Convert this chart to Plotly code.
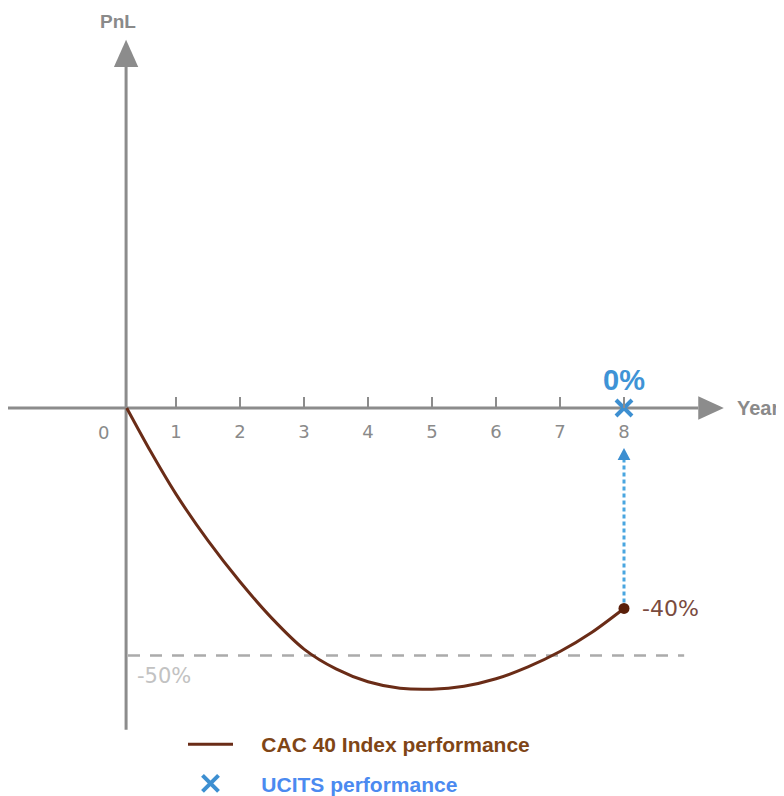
import plotly.graph_objects as go

# ---- data ----
YEARS = [0.23, 0.6, 1, 1.5, 2, 2.5, 3, 3.5, 4, 4.5, 5, 5.5, 6, 6.5, 7, 7.5, 8]
CAC_PNL = [0, -8.7, -17.4, -26.8, -35.1, -42.5, -48.7, -52.7, -55.3, -56.6, -56.8,
           -56.2, -54.7, -52.3, -49.2, -45.3, -40.5]
UCITS_YEAR = [8]
UCITS_PNL = [0]
TICK_YEARS = [1, 2, 3, 4, 5, 6, 7, 8]
TICK_LABELS = ["1", "2", "3", "4", "5", "6", "7", "8"]
BARRIER = -50
SERIES_NAMES = ["CAC 40 Index performance", "UCITS performance"]

BROWN = "#6a2c17"
BLUE = "#3d8fd1"
GRAY = "#8c8c8c"

# page offset of the plot div (browser default body margin)
OFF = 8
W, H = 784, 796
PX0, PX_PER_YEAR = 112, 64        # screen x of year 0, pixels per year
PY0, PY_PER_PCT = 408, 4.95       # screen y of 0 %, pixels per %

x_lo = (OFF - PX0) / PX_PER_YEAR
x_hi = (OFF + W - PX0) / PX_PER_YEAR
y_hi = (PY0 - OFF) / PY_PER_PCT
y_lo = (PY0 - OFF - H) / PY_PER_PCT

fig = go.Figure()

fig.add_trace(go.Scatter(
    x=YEARS, y=CAC_PNL, mode="lines",
    line=dict(color=BROWN, width=3, shape="spline", smoothing=0.8),
    name="<b><span style='color:#7f4516'>&nbsp;&nbsp;&nbsp;&nbsp;" + SERIES_NAMES[0] + "</span></b>",
    legendgroup="a", hoverinfo="skip",
))
fig.add_trace(go.Scatter(
    x=[YEARS[-1]], y=[CAC_PNL[-1]], mode="markers",
    marker=dict(color="#5a1f0a", size=11), showlegend=False, hoverinfo="skip",
))
fig.add_trace(go.Scatter(
    x=UCITS_YEAR, y=UCITS_PNL, mode="markers",
    marker=dict(symbol="x-thin", size=16, line=dict(color=BLUE, width=4), color=BLUE),
    name="<b><span style='color:#4b8af0'>&nbsp;&nbsp;&nbsp;&nbsp;" + SERIES_NAMES[1] + "</span></b>",
    legendgroup="b", hoverinfo="skip",
))

x_end = YEARS[-1]
shapes = [
    # horizontal axis line + arrow
    dict(type="line", x0=-1.64, x1=9.16, y0=0, y1=0, line=dict(color=GRAY, width=3), layer="below"),
    dict(type="path", path="M 9.16,2.35 L 9.56,0 L 9.16,-2.35 Z", fillcolor=GRAY, line=dict(width=0), layer="below"),
    # vertical axis line + arrow
    dict(type="line", x0=0.22, x1=0.22, y0=-65, y1=68.9, line=dict(color=GRAY, width=3), layer="below"),
    dict(type="path", path="M 0.03,68.9 L 0.22,74.4 L 0.41,68.9 Z", fillcolor=GRAY, line=dict(width=0), layer="below"),
    # -50% barrier
    dict(type="line", x0=0.25, x1=8.94, y0=BARRIER, y1=BARRIER,
         line=dict(color="#ababab", width=2.5, dash="12px,10px"), layer="below"),
    # dotted blue arrow from -40% to 0%
    dict(type="line", x0=x_end, x1=x_end, y0=CAC_PNL[-1] + 1.2, y1=-10.5,
         line=dict(color="#4aa6e0", width=3, dash="4px,3px"), layer="below"),
    dict(type="path", path="M 7.9,-10.5 L 8,-8.1 L 8.1,-10.5 Z", fillcolor="#3d8fd1", line=dict(width=0), layer="below"),
]

GF = "DejaVu Sans"
annotations = [
    dict(x=-0.14, y=-4.85, text="0", showarrow=False, font=dict(family=GF, size=18, color="#8a8a8a")),
    dict(x=UCITS_YEAR[0], y=5.6, text="<b>0%</b>", showarrow=False,
         font=dict(family="Liberation Sans", size=29, color="#3e93d6")),
    dict(x=8.25, y=-40.6, text="-40%", showarrow=False, xanchor="left",
         font=dict(family=GF, size=22, color="#7a4b3e")),
    dict(x=0.36, y=-54.1, text="-50%", showarrow=False, xanchor="left",
         font=dict(family=GF, size=21, color="#c2c2c2")),
    dict(x=0.094, y=78, text="<b>PnL</b>", showarrow=False,
         font=dict(family="Liberation Sans", size=19, color="#8a8a8a")),
    dict(x=9.73, y=0, text="<b>Year</b>", showarrow=False, xanchor="left",
         font=dict(family="Liberation Sans", size=20, color="#8a8a8a")),
]

fig.update_layout(
    width=W, height=H,
    margin=dict(l=0, r=0, t=0, b=0, autoexpand=False),
    paper_bgcolor="white", plot_bgcolor="white",
    xaxis=dict(range=[x_lo, x_hi], anchor="free", position=(H - (PY0 - OFF)) / H,
               tickvals=TICK_YEARS, ticktext=TICK_LABELS, ticks="inside", ticklen=11,
               tickwidth=1.5, tickcolor=GRAY, showline=False, showgrid=False, zeroline=False,
               tickfont=dict(family=GF, size=18, color="#8a8a8a"), ticklabelstandoff=11,
               fixedrange=True, automargin=False),
    yaxis=dict(range=[y_lo, y_hi], visible=False, fixedrange=True),
    shapes=shapes,
    annotations=annotations,
    showlegend=True,
    legend=dict(x=(183 - OFF) / W, xanchor="left", y=(H - (724 - OFF)) / H, yanchor="top",
                bgcolor="rgba(0,0,0,0)", itemwidth=45, traceorder="grouped",
                tracegroupgap=9,
                font=dict(family="Liberation Sans", size=21)),
)

fig.write_html("out.html")
